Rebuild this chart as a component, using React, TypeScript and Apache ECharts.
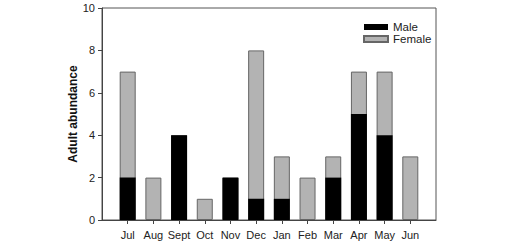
import React, { useEffect, useRef } from "react";
import * as echarts from "echarts";

const months = ["Jul", "Aug", "Sept", "Oct", "Nov", "Dec", "Jan", "Feb", "Mar", "Apr", "May", "Jun"];
const male = [2, 0, 4, 0, 2, 1, 1, 0, 2, 5, 4, 0];
const female = [5, 2, 0, 1, 0, 7, 2, 2, 1, 2, 3, 3];
const yTicks = [0, 2, 4, 6, 8, 10];

export default function App() {
  const ref = useRef<HTMLDivElement>(null);
  useEffect(() => {
    if (!ref.current) return;
    const chart = echarts.init(ref.current, null, { renderer: "svg" });
    const positions = months.map((_, i) => i + 1);
    const font = "Liberation Sans, Arial, sans-serif";
    chart.setOption({
      animation: false,
      textStyle: { fontFamily: font },
      grid: {
        left: 102,
        top: 8,
        right: 92,
        bottom: 28,
        show: true,
        borderColor: "#555",
        borderWidth: 1,
      },
      legend: {
        orient: "vertical",
        left: 363,
        top: 21,
        padding: 0,
        itemWidth: 24,
        itemHeight: 6,
        itemGap: 0,
        icon: "rect",
        data: ["Male", "Female"],
        textStyle: { fontSize: 11.5, lineHeight: 11, color: "#222", fontFamily: font, padding: [0, 0, 0, 0] },
      },
      xAxis: {
        type: "value",
        min: 0,
        max: 13,
        interval: 1,
        splitLine: { show: false },
        axisLine: { show: true, lineStyle: { color: "#444" } },
        axisTick: {
          show: true,
          length: 4,
          inside: false,
          customValues: positions,
          lineStyle: { color: "#444" },
        },
        axisLabel: {
          customValues: positions,
          formatter: (v: number) => months[Math.round(v) - 1] ?? "",
          fontSize: 11,
          color: "#222",
          margin: 9,
          fontFamily: font,
        },
      },
      yAxis: {
        type: "value",
        min: 0,
        max: 10,
        interval: 2,
        splitLine: { show: false },
        axisLine: { show: true, lineStyle: { color: "#444" } },
        axisTick: { show: true, length: 4, inside: false, lineStyle: { color: "#444" } },
        axisLabel: {
          fontSize: 11,
          color: "#222",
          margin: 7,
          fontFamily: font,
          formatter: (v: number) => (yTicks.includes(v) ? String(v) : ""),
        },
        name: "Adult abundance",
        nameLocation: "middle",
        nameGap: 23,
        nameMoveOverlap: false,
        nameTextStyle: { fontSize: 12, fontWeight: "bold", color: "#111", fontFamily: font },
      },
      series: [
        {
          name: "Female",
          type: "bar",
          barWidth: 16,
          barGap: "-100%",
          itemStyle: { color: "#b3b3b3", borderColor: "#666", borderWidth: 1 },
          data: positions.map((p, i) => [p, male[i] + female[i]]),
          z: 1,
        },
        {
          name: "Male",
          type: "bar",
          barWidth: 16,
          barGap: "-100%",
          itemStyle: { color: "#000", borderColor: "#000", borderWidth: 0 },
          data: positions.map((p, i) => [p, male[i]]),
          z: 2,
        },
      ],
    });
    return () => chart.dispose();
  }, []);
  return <div ref={ref} style={{ width: 528, height: 248, position: "absolute", left: 0, top: 0 }} />;
}
